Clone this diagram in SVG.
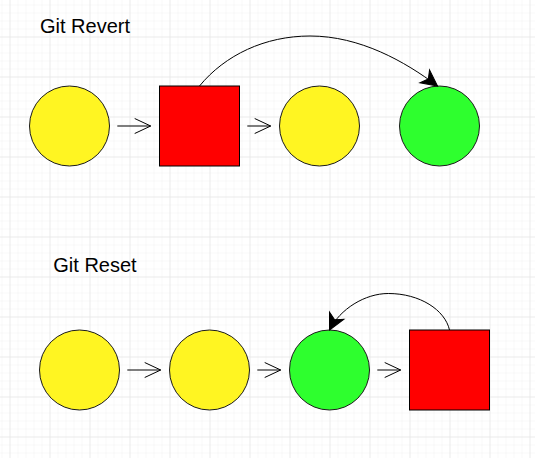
<svg xmlns="http://www.w3.org/2000/svg" width="535" height="458" viewBox="0 0 535 458">
  <style>
    .lbl { font-family: "Liberation Sans", Arial, sans-serif; font-size: 20px; fill: #000; }
    .yellow { fill: #FFF522; stroke: #1a1a1a; stroke-width: 1; }
    .green { fill: #2EFF2E; stroke: #1a1a1a; stroke-width: 1; }
    .red { fill: #FF0000; stroke: #000; stroke-width: 1; }
    .edge { fill: none; stroke: #000; stroke-width: 1; }
    .curve { fill: none; stroke: #000; stroke-width: 1; marker-end: url(#filled); }
  </style>
  <defs>
    <pattern id="minor" x="1.5" y="4.5" width="8" height="8" patternUnits="userSpaceOnUse">
      <path d="M0,0 H8 M0,0 V8" fill="none" stroke="#f1f1f1" stroke-width="1"/>
    </pattern>
    <pattern id="major" x="9.5" y="36.5" width="40" height="40" patternUnits="userSpaceOnUse">
      <path d="M0,0 H40 M0,0 V40" fill="none" stroke="#e2e2e2" stroke-width="1"/>
    </pattern>
    <marker id="filled" markerUnits="userSpaceOnUse" markerWidth="30" markerHeight="30" refX="0" refY="0" orient="auto" overflow="visible">
      <path d="M0,0 L-16,-8 L-11.5,0 L-16,8 Z" fill="#000" stroke="#000" stroke-width="1" stroke-linejoin="miter"/>
    </marker>
  </defs>
  <rect width="535" height="458" fill="#ffffff"/>
  <rect width="535" height="458" fill="url(#minor)"/>
  <rect width="535" height="458" fill="url(#major)"/>

  <g id="title-revert"><text class="lbl" x="40" y="33.3">Git Revert</text></g>
  <g id="title-reset"><text class="lbl" x="53.3" y="271.7">Git Reset</text></g>

  <g id="revert-c1"><circle class="yellow" cx="69.5" cy="126" r="40"/></g>
  <g id="revert-bad"><rect class="red" x="159.5" y="86" width="80" height="80"/></g>
  <g id="revert-c3"><circle class="yellow" cx="319.5" cy="126" r="40"/></g>
  <g id="revert-new"><circle class="green" cx="439.5" cy="126" r="40"/></g>

  <g id="reset-c1"><circle class="yellow" cx="79.5" cy="370" r="40"/></g>
  <g id="reset-c2"><circle class="yellow" cx="209.5" cy="370" r="40"/></g>
  <g id="reset-head"><circle class="green" cx="329.5" cy="370" r="40"/></g>
  <g id="reset-bad"><rect class="red" x="409.5" y="330" width="80" height="80"/></g>

  <g id="connectors">
    <path class="edge" d="M117.3,126 H150.7 M134.7,118.5 L150.7,126 L134.7,133.5"/>
    <path class="edge" d="M247.3,126 H270.7 M254.7,118.5 L270.7,126 L254.7,133.5"/>
    <path class="edge" d="M127.3,370 H160.7 M144.7,362.5 L160.7,370 L144.7,377.5"/>
    <path class="edge" d="M257.3,370 H280.7 M264.7,362.5 L280.7,370 L264.7,377.5"/>
    <path class="edge" d="M377.3,370 H400.7 M384.7,362.5 L400.7,370 L384.7,377.5"/>
    <path class="curve" d="M199.5,86 C225,55 265,36 310,36 C360,36 405,61.5 437.5,86"/>
    <path class="curve" d="M449.5,330 C445,310 420,293.5 388.3,293.5 C365,293.5 340,309 329.5,330"/>
  </g>
</svg>
